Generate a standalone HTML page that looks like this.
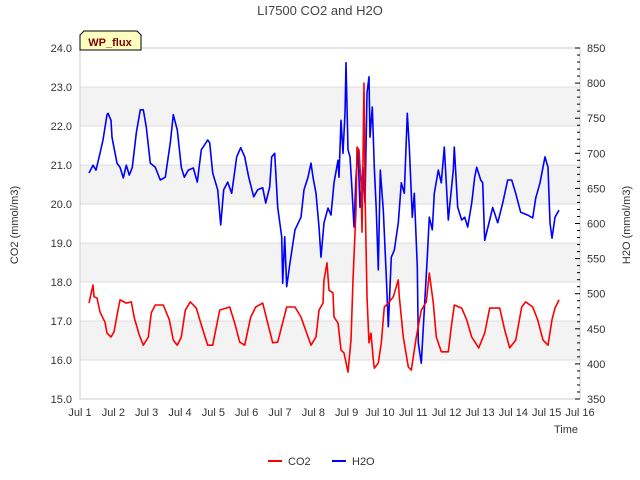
<!DOCTYPE html>
<html><head><meta charset="utf-8"><style>
body{margin:0;background:#fff;}
svg{display:block;font-family:"Liberation Sans",sans-serif;}
</style></head><body>
<svg id="chart" width="640" height="480" viewBox="0 0 640 480">
<text x="320" y="15" text-anchor="middle" font-size="13" fill="#444">LI7500 CO2 and H2O</text>
<g id="bands"></g>
<g id="grid"></g>
<rect x="80" y="48" width="500" height="351" fill="none" stroke="#ccc"/>
<g id="axes"></g>
<g id="series"></g>
<g>
<path d="M84,31 H137 L141,35 V50 H80 V35 Z" fill="#ffffc0" stroke="#000" stroke-width="1"/>
<text x="110" y="46" text-anchor="middle" font-size="11" font-weight="bold" fill="#800000">WP_flux</text>
</g>
<text transform="translate(18,225) rotate(-90)" text-anchor="middle" font-size="11" fill="#333">CO2 (mmol/m3)</text>
<text transform="translate(630,225) rotate(-90)" text-anchor="middle" font-size="11" fill="#333">H2O (mmol/m3)</text>
<text x="566" y="433" text-anchor="middle" font-size="11" fill="#333">Time</text>
<g>
<line x1="268" y1="461" x2="282" y2="461" stroke="#f00" stroke-width="2"/>
<text x="288" y="465" font-size="11" fill="#333">CO2</text>
<line x1="332" y1="461" x2="346" y2="461" stroke="#00f" stroke-width="2"/>
<text x="352" y="465" font-size="11" fill="#333">H2O</text>
</g>
</svg>
<script>
const xTickLabels=["Jul 1","Jul 2","Jul 3","Jul 4","Jul 5","Jul 6","Jul 7","Jul 8","Jul 9","Jul 10","Jul 11","Jul 12","Jul 13","Jul 14","Jul 15","Jul 16"];
const leftTicks=[15,16,17,18,19,20,21,22,23,24];
const rightTicks=[350,400,450,500,550,600,650,700,750,800,850];
const co2Times=[0.27,0.39,0.42,0.51,0.60,0.75,0.81,0.93,1.02,1.14,1.20,1.39,1.54,1.63,1.78,1.90,2.05,2.14,2.26,2.50,2.68,2.80,2.92,3.04,3.16,3.31,3.49,3.64,3.83,3.98,4.19,4.49,4.64,4.79,4.94,5.12,5.27,5.48,5.63,5.78,5.93,6.20,6.45,6.63,6.93,7.08,7.17,7.29,7.32,7.41,7.47,7.59,7.62,7.74,7.83,7.92,8.04,8.13,8.19,8.28,8.31,8.37,8.43,8.46,8.52,8.55,8.61,8.67,8.73,8.80,8.83,8.95,9.04,9.13,9.25,9.40,9.55,9.58,9.70,9.85,9.94,10.09,10.24,10.39,10.48,10.60,10.69,10.84,11.05,11.14,11.23,11.45,11.60,11.75,11.96,12.14,12.29,12.59,12.74,12.89,13.07,13.25,13.37,13.58,13.73,13.89,14.04,14.16,14.25,14.37];
const co2Values=[17.46,17.92,17.62,17.59,17.23,16.97,16.69,16.59,16.72,17.28,17.54,17.46,17.49,17.08,16.64,16.38,16.59,17.21,17.41,17.41,17.03,16.51,16.38,16.59,17.28,17.49,17.33,16.90,16.38,16.38,17.28,17.36,16.95,16.46,16.38,17.10,17.36,17.46,16.95,16.44,16.46,17.36,17.36,17.10,16.38,16.59,17.28,17.46,18.05,18.49,17.79,17.72,17.10,16.95,16.26,16.18,15.69,16.51,18.05,19.85,21.46,21.38,20.54,19.28,23.10,20.36,17.62,16.44,16.69,16.00,15.79,15.92,16.44,17.36,17.46,17.62,18.05,17.62,16.59,15.82,15.74,16.59,17.28,17.49,18.23,17.46,16.59,16.21,16.21,16.85,17.41,17.33,17.03,16.59,16.31,16.69,17.33,17.33,16.77,16.31,16.51,17.36,17.49,17.36,17.03,16.51,16.38,17.03,17.33,17.54];
const h2oTimes=[0.27,0.39,0.48,0.60,0.69,0.81,0.84,0.93,0.96,1.02,1.11,1.20,1.30,1.39,1.48,1.57,1.69,1.81,1.90,1.99,2.11,2.26,2.41,2.56,2.71,2.80,2.92,3.04,3.13,3.25,3.40,3.52,3.64,3.83,3.89,3.98,4.13,4.22,4.31,4.43,4.55,4.70,4.82,4.94,5.06,5.21,5.33,5.48,5.57,5.69,5.75,5.84,5.93,6.05,6.08,6.14,6.20,6.30,6.45,6.63,6.72,6.84,6.93,6.99,7.08,7.17,7.23,7.32,7.44,7.53,7.62,7.74,7.77,7.83,7.89,7.95,7.98,8.04,8.10,8.16,8.22,8.28,8.34,8.40,8.49,8.55,8.61,8.67,8.70,8.77,8.83,8.89,8.95,9.01,9.10,9.19,9.25,9.34,9.43,9.55,9.64,9.73,9.82,9.88,9.97,10.03,10.12,10.15,10.24,10.33,10.42,10.48,10.57,10.63,10.75,10.84,10.93,11.05,11.14,11.20,11.23,11.33,11.45,11.54,11.63,11.75,11.84,11.90,12.02,12.08,12.14,12.29,12.38,12.53,12.68,12.83,12.95,13.07,13.22,13.43,13.58,13.67,13.80,13.95,14.04,14.10,14.16,14.25,14.37];
const h2oValues=[672,683,676,700,719,755,757,747,723,708,686,680,665,683,669,680,729,762,762,737,686,680,662,666,715,755,733,680,666,676,679,659,705,719,715,672,648,598,648,659,643,695,708,695,666,638,648,651,629,652,695,700,623,581,515,581,510,544,591,609,648,666,686,666,643,595,552,601,622,612,658,690,666,747,700,757,829,705,695,648,595,666,705,623,680,629,786,809,723,766,680,619,534,676,619,524,453,552,562,601,658,643,757,709,609,643,538,430,401,477,552,609,591,643,676,658,709,605,648,676,709,623,605,609,595,629,666,680,662,658,576,605,623,601,629,662,662,643,616,612,608,636,658,695,680,601,579,609,619];

const NS="http://www.w3.org/2000/svg";
const X0=80,X1=580,Y0=399,Y1=48;
const xs=d=>X0+(X1-X0)*d/15;
const yl=v=>Y0-(Y0-Y1)*(v-15)/9;
const yr=v=>Y0-(Y0-Y1)*(v-350)/500;
function mk(tag,attrs,parent){const e=document.createElementNS(NS,tag);for(const k in attrs)e.setAttribute(k,attrs[k]);parent.appendChild(e);return e;}
const bands=document.getElementById('bands'),grid=document.getElementById('grid'),axes=document.getElementById('axes'),series=document.getElementById('series');
[16,18,20,22].forEach(v=>{const r=mk('rect',{x:X0,y:yl(v+1),width:X1-X0,height:yl(v)-yl(v+1),fill:'#f3f3f3'},bands);

});
leftTicks.forEach(v=>{const l=mk('line',{x1:X0,x2:X1,y1:yl(v),y2:yl(v),stroke:'#ddd'},grid);


const t=mk('text',{x:72,y:yl(v)+4,'text-anchor':'end','font-size':11,fill:'#333'},axes);t.textContent=v.toFixed(1);

});
rightTicks.forEach(v=>{const t=mk('text',{x:587,y:yr(v)+4,'font-size':11,fill:'#333'},axes);t.textContent=v;


mk('line',{x1:X1,x2:X1-5,y1:yr(v),y2:yr(v),stroke:'#000'},axes);});
for(let v=360;v<850;v+=10){if(v%50)mk('line',{x1:X1,x2:X1-3,y1:yr(v),y2:yr(v),stroke:'#000'},axes);}
xTickLabels.forEach((s,i)=>{const t=mk('text',{x:xs(i),y:416,'text-anchor':'middle','font-size':11,fill:'#333'},axes);t.textContent=s;

});
function line(ts,vs,yf,col,name){const p=mk('polyline',{points:ts.map((t,i)=>xs(t).toFixed(1)+','+yf(vs[i]).toFixed(1)).join(' '),fill:'none',stroke:col,'stroke-width':1.6,'stroke-linejoin':'round'},series);

}
line(h2oTimes,h2oValues,yr,'#0000ff','h2o-line');
line(co2Times,co2Values,yl,'#ff0000','co2-line');
</script>
</body></html>
